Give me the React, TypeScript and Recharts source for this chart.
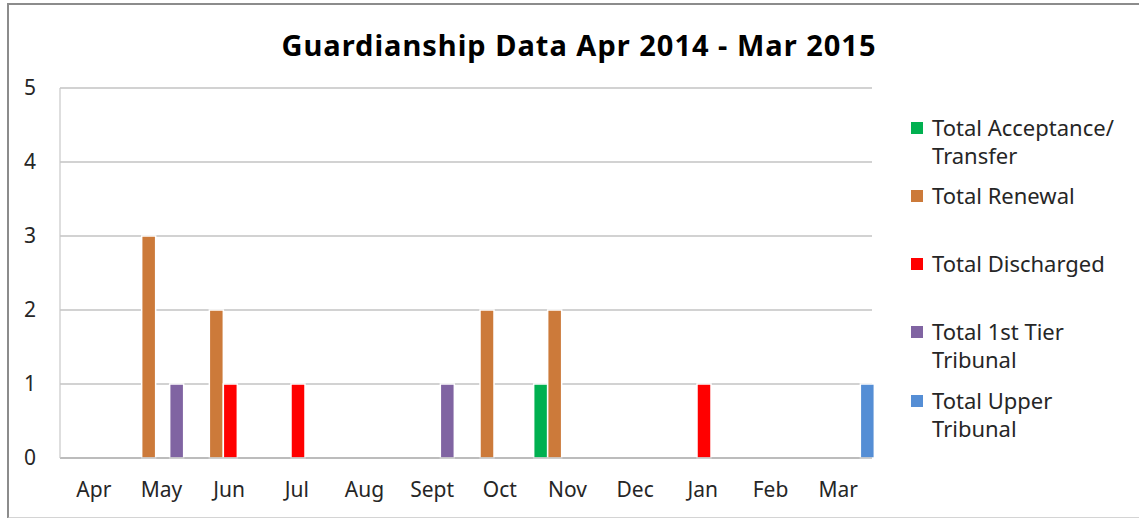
import React from "react";
import { BarChart, Bar, XAxis, YAxis, CartesianGrid, Legend } from "recharts";

const months = ["Apr", "May", "Jun", "Jul", "Aug", "Sept", "Oct", "Nov", "Dec", "Jan", "Feb", "Mar"];
const acceptance = [0, 0, 0, 0, 0, 0, 0, 1, 0, 0, 0, 0];
const renewal = [0, 3, 2, 0, 0, 0, 2, 2, 0, 0, 0, 0];
const discharged = [0, 0, 1, 1, 0, 0, 0, 0, 0, 1, 0, 0];
const firstTier = [0, 1, 0, 0, 0, 1, 0, 0, 0, 0, 0, 0];
const upper = [0, 0, 0, 0, 0, 0, 0, 0, 0, 0, 0, 1];
const yTicks = [0, 1, 2, 3, 4, 5];

const series = [
  { key: "acceptance", name: "Total Acceptance/ Transfer", lines: ["Total Acceptance/", "Transfer"], color: "#00b050", values: acceptance },
  { key: "renewal", name: "Total Renewal", lines: ["Total Renewal"], color: "#cc7a3a", values: renewal },
  { key: "discharged", name: "Total Discharged", lines: ["Total Discharged"], color: "#ff0000", values: discharged },
  { key: "firstTier", name: "Total 1st Tier Tribunal", lines: ["Total 1st Tier", "Tribunal"], color: "#8064a2", values: firstTier },
  { key: "upper", name: "Total Upper Tribunal", lines: ["Total Upper", "Tribunal"], color: "#558ed5", values: upper },
];

const data = months.map((m, i) => {
  const row: Record<string, string | number> = { month: m };
  series.forEach((s) => (row[s.key] = s.values[i]));
  return row;
});

const font = "'Noto Sans', sans-serif";
const legendTops = [113, 181, 249, 317, 386];

// zero-height box so the legend does not eat into the plot area
const renderLegend = () => (
  <div style={{ position: "relative", width: 230, height: 0, overflow: "visible", fontFamily: font }}>
    {series.map((s, i) => (
      <div key={s.key} style={{ position: "absolute", top: legendTops[i], left: 0 }}>
        <div style={{ position: "absolute", left: 5, top: 9, width: 12, height: 12, background: s.color }} />
        <div style={{ marginLeft: 26, fontSize: 22, lineHeight: "28px", color: "#262626", whiteSpace: "nowrap" }}>
          {s.lines.map((l) => (
            <div key={l}>{l}</div>
          ))}
        </div>
      </div>
    ))}
  </div>
);

export default function App() {
  return (
    <div style={{ position: "absolute", left: 0, top: 0, width: 1139, height: 518, background: "#fff", overflow: "hidden" }}>
      <div
        style={{
          position: "absolute",
          left: 7,
          top: 3,
          width: 1140,
          height: 512,
          borderLeft: "2px solid #8c8c8c",
          borderTop: "2px solid #8c8c8c",
          borderBottom: "2px solid #d4d4d4",
        }}
      />
      <div
        style={{
          position: "absolute",
          left: 0,
          top: 26,
          width: 1158,
          textAlign: "center",
          fontFamily: font,
          fontWeight: 700,
          fontSize: 29,
          letterSpacing: 1,
          lineHeight: "38px",
          color: "#000",
        }}
      >
        Guardianship Data Apr 2014 - Mar 2015
      </div>
      <BarChart
        width={1139}
        height={518}
        data={data}
        margin={{ top: 88, right: 267, bottom: 0, left: 0 }}
        barCategoryGap={0}
        barGap={0}
        style={{ position: "absolute", left: 0, top: 0 }}
      >
        <CartesianGrid vertical={false} stroke="#a6a6a6" strokeWidth={1.2} />
        <XAxis
          dataKey="month"
          height={60}
          tickLine={false}
          axisLine={{ stroke: "#a6a6a6", strokeWidth: 1.2 }}
          tickMargin={18}
          tick={{ fontFamily: font, fontSize: 21, fill: "#262626" }}
          interval={0}
        />
        <YAxis
          width={60}
          domain={[0, 5]}
          ticks={yTicks}
          tickLine={false}
          tickSize={0}
          axisLine={{ stroke: "#c8c8c8", strokeWidth: 1.2 }}
          tickMargin={24}
          tick={{ fontFamily: font, fontSize: 21, fill: "#262626" }}
        />
        <Legend
          content={renderLegend}
          verticalAlign="top"
          wrapperStyle={{ left: 906, top: 0, width: 230, height: 0 }}
        />
        {series.map((s) => (
          <Bar
            key={s.key}
            dataKey={s.key}
            name={s.name}
            fill={s.color}
            stroke="#ffffff"
            strokeWidth={1.5}
            isAnimationActive={false}
          />
        ))}
      </BarChart>
    </div>
  );
}
